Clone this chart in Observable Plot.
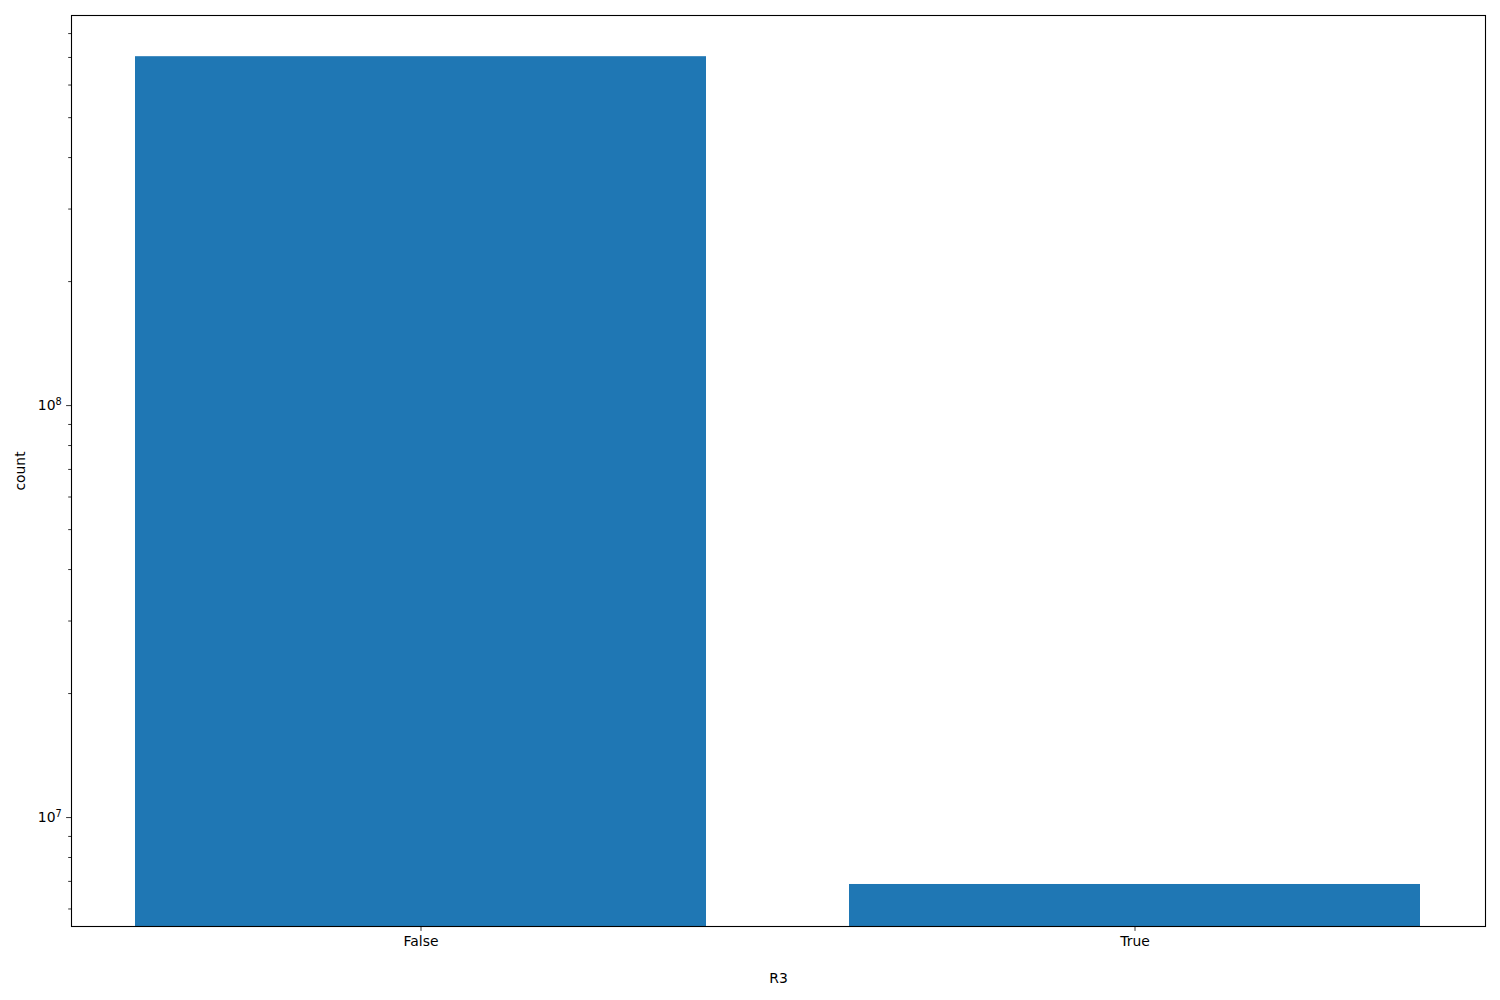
<!DOCTYPE html>
<html>
<head>
<meta charset="utf-8">
<script src="https://cdn.jsdelivr.net/npm/d3@7"></script>
<script src="https://cdn.jsdelivr.net/npm/@observablehq/plot@0.6"></script>
<style>
  html, body { margin: 0; padding: 0; background: #fff; }
  #chart svg { display: block; }
</style>
</head>
<body>
<div id="chart"></div>
<script>
// Data
const categories = ["False", "True"];
const counts = [7.03e8, 6.88e6];

// Axis ticks
const majorTicks = [1e7, 1e8];
const majorBase = ["10", "10"];
const majorExp = ["7", "8"];
const minorTicks = [6e6, 7e6, 8e6, 9e6, 2e7, 3e7, 4e7, 5e7, 6e7, 7e7, 8e7, 9e7, 2e8, 3e8, 4e8, 5e8, 6e8, 7e8, 8e8];
const yDomain = [5.44e6, 8.85e8];

const data = categories.map((c, i) => ({R3: c, count: counts[i]}));

const font = "'DejaVu Sans', sans-serif";
const chart = Plot.plot({
  width: 1500,
  height: 1000,
  marginLeft: 71,
  marginRight: 15,
  marginTop: 15,
  marginBottom: 74,
  style: {fontFamily: font, fontSize: "13.9px", color: "black", background: "white"},
  x: {type: "band", domain: categories, paddingInner: 0.2, paddingOuter: 0.089, align: 0.5},
  y: {type: "log", domain: yDomain},
  marks: [
    Plot.barY(data, {x: "R3", y1: 1, y2: "count", fill: "#1f77b4", clip: true}),
    Plot.axisY({ticks: minorTicks, tickSize: 2.8, tickFormat: () => "", label: null, strokeWidth: 0.8}),
    Plot.axisY({ticks: majorTicks, tickSize: 4.9, tickPadding: 4.9,
      tickFormat: (d) => { const i = majorTicks.indexOf(d); return majorBase[i] + "^" + majorExp[i]; },
      label: "count", labelAnchor: "center", labelArrow: "none", labelOffset: 56, strokeWidth: 0.8}),
    Plot.axisX({tickSize: 4.9, tickPadding: 4.9, label: "R3", labelAnchor: "center", labelArrow: "none", labelOffset: 56, strokeWidth: 0.8}),
    Plot.frame({stroke: "black", strokeWidth: 1.1})
  ]
});

// Render exponent labels with a real superscript
d3.select(chart).selectAll("text").each(function() {
  const t = this.textContent;
  const m = /^(\d+)\^(\d+)$/.exec(t);
  if (!m) return;
  const sel = d3.select(this);
  sel.text(null);
  sel.append("tspan").text(m[1]);
  sel.append("tspan").attr("dy", "-0.55em").attr("font-size", "70%").text(m[2]);
});

document.getElementById("chart").appendChild(chart);
</script>
</body>
</html>
